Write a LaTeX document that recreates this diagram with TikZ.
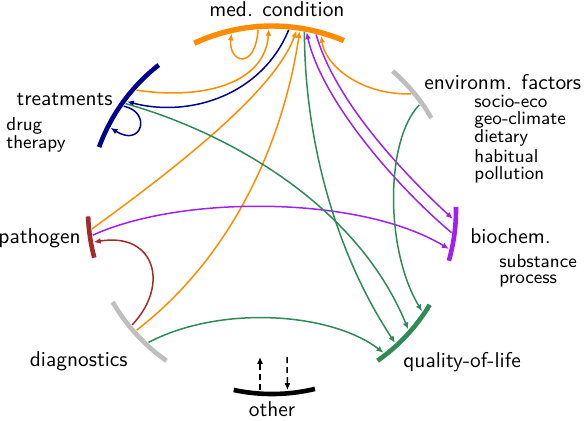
\documentclass[tikz,border=0pt]{standalone}
\usepackage{tikz}
\usetikzlibrary{arrows.meta, positioning, calc}
\renewcommand{\familydefault}{\sfdefault}

\definecolor{medorange}{RGB}{255,140,0}
\definecolor{envgray}{RGB}{190,190,190}
\definecolor{treatnavy}{RGB}{0,0,140}
\definecolor{pathbrown}{RGB}{165,42,42}
\definecolor{chempurple}{RGB}{160,32,240}
\definecolor{qolgreen}{RGB}{46,139,87}

\tikzset{
  group/.style={line width=2.3pt},
  link/.style={line width=0.75pt, -{Latex[length=3.4pt,width=3pt]}},
  lab/.style={font=\fontsize{10.7}{12}\selectfont},
  sublab/.style={font=\fontsize{9.3}{11}\selectfont, anchor=base west, inner sep=0pt},
}

\begin{document}
\begin{tikzpicture}[x=0.5pt,y=-0.5pt]
			\useasboundingbox (0,0) rectangle (584,420);
			\coordinate (O) at (272,210);
			% groups on the circle
			\draw[group,medorange,line width=2.7pt] (O) ++(-67:184) arc[start angle=-67,end angle=-115,radius=184];
			\draw[group,envgray] (O) ++(-30:184) arc[start angle=-30,end angle=-49,radius=184];
			\draw[group,treatnavy] (O) ++(-128:184) arc[start angle=-128,end angle=-160,radius=184];
			\draw[group,pathbrown] (O) ++(-182:184) arc[start angle=-182,end angle=-195,radius=184];
			\draw[group,envgray] (O) ++(-210:184) arc[start angle=-210,end angle=-235,radius=184];
			\draw[group,black] (O) ++(-258:184) arc[start angle=-258,end angle=-283.5,radius=184];
			\draw[group,qolgreen] (O) ++(-305:184) arc[start angle=-305,end angle=-329,radius=184];
			\draw[group,chempurple] (O) ++(-344:184) arc[start angle=-344,end angle=-361,radius=184];
			% end points of the links
			\path (O) ++(-102.9:181) coordinate (mcLoopIn)
			      (O) ++(-94.4:181) coordinate (mcLoopOut)
			      (O) ++(-91:181) coordinate (mcTreat)
			      (O) ++(-84.7:181) coordinate (mcNavy)
			      (O) ++(-82.2:181) coordinate (mcPath)
			      (O) ++(-81.2:181) coordinate (mcDiag)
			      (O) ++(-79.7:181) coordinate (mcGreen)
			      (O) ++(-79:181) coordinate (mcChemIn)
			      (O) ++(-75.9:181) coordinate (mcChemOut)
			      (O) ++(-74.2:181) coordinate (mcEnv)
			      (O) ++(-39.9:181) coordinate (enMed)
			      (O) ++(-35.5:181) coordinate (enQol)
			      (O) ++(-138.5:181) coordinate (trMed)
			      (O) ++(-143.2:181) coordinate (trIn)
			      (O) ++(-144:181) coordinate (trQol)
			      (O) ++(-145:181) coordinate (trLoopOut)
			      (O) ++(-153:181) coordinate (trLoopIn)
			      (O) ++(-186:181) coordinate (paMed)
			      (O) ++(-188:181) coordinate (paChem)
			      (O) ++(-190.2:181) coordinate (paIn)
			      (O) ++(-219.4:181) coordinate (diPath)
			      (O) ++(-221.6:181) coordinate (diMed)
			      (O) ++(-227:181) coordinate (diQol)
			      (O) ++(-308:181) coordinate (qoDiag)
			      (O) ++(-312.8:181) coordinate (qoMed)
			      (O) ++(-318.8:181) coordinate (qoTreat)
			      (O) ++(-326:181) coordinate (qoEnv)
			      (O) ++(-347.6:181) coordinate (chIn2)
			      (O) ++(-352.8:181) coordinate (chOut)
			      (O) ++(-357.2:181) coordinate (chIn1);
			\coordinate (otA) at (260,390);
			\coordinate (otAend) at (260,357);
			\coordinate (otBend) at (287,357);
			\coordinate (otB) at (287.5,390);
			% links
			\draw[link,medorange] (mcLoopOut) .. controls (255,72) and (228,62) .. (mcLoopIn);
			\draw[link,medorange] (trMed) .. controls (200,100) and (265,85) .. (mcTreat);
			\draw[link,medorange] (paMed) .. controls (180,165) and (275,90) .. (mcPath);
			\draw[link,medorange] (diMed) .. controls (240,250) and (285,130) .. (mcDiag);
			\draw[link,medorange] (enMed) .. controls (360,95) and (325,65) .. (mcEnv);
			\draw[link,treatnavy] (mcNavy) .. controls (262,95) and (190,118) .. (trIn);
			\draw[link,treatnavy] (trLoopOut) .. controls (152,112) and (142,148) .. (trLoopIn);
			\draw[link,chempurple] (mcChemOut) .. controls (335,100) and (400,170) .. (chIn1);
			\draw[link,chempurple] (chOut) .. controls (395,185) and (322,100) .. (mcChemIn);
			\draw[link,chempurple] (paChem) .. controls (180,195) and (360,195) .. (chIn2);
			\draw[link,pathbrown] (diPath) .. controls (170,285) and (155,232) .. (paIn);
			\draw[link,qolgreen] (mcGreen) .. controls (305,150) and (340,260) .. (qoMed);
			\draw[link,qolgreen] (enQol) .. controls (385,140) and (385,250) .. (qoEnv);
			\draw[link,qolgreen] (trQol) .. controls (220,130) and (355,200) .. (qoTreat);
			\draw[link,qolgreen] (diQol) .. controls (220,305) and (330,312) .. (qoDiag);
			\draw[link,black,dash pattern=on 3pt off 2pt] (otA) -- (otAend);
			\draw[link,black,dash pattern=on 3pt off 2pt] (otBend) -- (otB);
			% labels
			\node[lab,anchor=base] (mcLab) at (277,16) {med. condition};
			\node[lab,anchor=base west,inner sep=0pt] (enLab) at (424,89) {environm. factors};
			\node[sublab] (enSub1) at (474,107) {socio-eco};
			\node[sublab] (enSub2) at (474,124) {geo-climate};
			\node[sublab] (enSub3) at (474,142) {dietary};
			\node[sublab] (enSub4) at (474,162) {habitual};
			\node[sublab] (enSub5) at (474,179) {pollution};
			\node[lab,anchor=base east,inner sep=0pt] (trLab) at (113,105) {treatments};
			\node[sublab] (trSub1) at (6,130) {drug};
			\node[sublab] (trSub2) at (6,148) {therapy};
			\node[lab,anchor=base east,inner sep=0pt] (paLab) at (81,243) {pathogen};
			\node[lab,anchor=base west,inner sep=0pt] (chLab) at (470,243) {biochem.};
			\node[sublab] (chSub1) at (499,267) {substance};
			\node[sublab] (chSub2) at (499,283) {process};
			\node[lab,anchor=base east,inner sep=0pt] (diLab) at (128,366) {diagnostics};
			\node[lab,anchor=base,inner sep=0pt] (otLab) at (272,416) {other};
			\node[lab,anchor=base west,inner sep=0pt] (qoLab) at (403,367) {quality-of-life};
		\end{tikzpicture}
\end{document}
